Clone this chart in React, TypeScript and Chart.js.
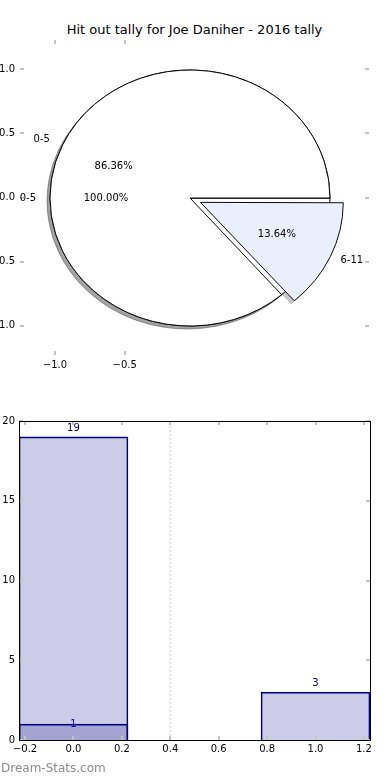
import React, { useEffect, useRef } from 'react';
import { Chart, registerables } from 'chart.js';

Chart.register(...registerables);

const TITLE = 'Hit out tally for Joe Daniher - 2016 tally';
const WATERMARK = 'Dream-Stats.com';

// split pie (0-5 vs 6-11)
const sliceLabels = ['0-5', '6-11'];
const sliceValues = [86.36, 13.64];
const sliceColors = ['#ffffff', '#e9effc'];
const sliceExplode = [0, 1];

// overall pie
const totalLabels = ['0-5'];
const totalValues = [100];
const totalColors = ['#ffffff'];
const totalExplode = [0];

// pie frame ticks
const pieXTicks = [-1.0, -0.5];
const pieYTicks = [-1.0, -0.5, 0.0, 0.5, 1.0];

// bars
const barX = [0, 1];
const barTotals = [19, 3];
const barSubX = [0];
const barSubValues = [1];
const barXTicks = [-0.2, 0.0, 0.2, 0.4, 0.6, 0.8, 1.0, 1.2];
const barYTicks = [0, 5, 10, 15, 20];
const dividerX = [0.4, 0.4];
const dividerY = [0, 20];

const FONT = '"DejaVu Sans", sans-serif';
const SY = 128 / 140;
const EXPLODE_PX = 46;
const SHADOW = 'rgba(77,77,77,0.3)';

const fmt1 = (v: number) => (v < 0 ? '\u2212' : '') + Math.abs(v).toFixed(1);

function innerTicks(frame: boolean) {
  return {
    id: 'innerTicks',
    afterDraw(chart: any) {
      const { ctx, chartArea: a, scales } = chart;
      const xs = scales.x;
      const ys = scales.y;
      const len = 4;
      ctx.save();
      ctx.strokeStyle = '#c4c4c4';
      ctx.lineWidth = 2;
      ctx.beginPath();
      xs.ticks.forEach((t: any) => {
        const p = Math.round(xs.getPixelForValue(t.value));
        ctx.moveTo(p, a.top);
        ctx.lineTo(p, a.top + len);
        ctx.moveTo(p, a.bottom);
        ctx.lineTo(p, a.bottom - len);
      });
      ys.ticks.forEach((t: any) => {
        const p = Math.round(ys.getPixelForValue(t.value));
        ctx.moveTo(a.left, p);
        ctx.lineTo(a.left + len, p);
        ctx.moveTo(a.right, p);
        ctx.lineTo(a.right - len, p);
      });
      ctx.stroke();
      if (frame) {
        ctx.strokeStyle = '#000';
        ctx.lineWidth = 1;
        ctx.strokeRect(Math.round(a.left) + 0.5, Math.round(a.top) + 0.5, Math.round(a.right - a.left), Math.round(a.bottom - a.top));
      }
      ctx.restore();
    },
  };
}

const pieSets = [
  { labels: sliceLabels, values: sliceValues },
  { labels: totalLabels, values: totalValues },
];

function ellipse(ctx: CanvasRenderingContext2D, cx: number, cy: number) {
  ctx.translate(cx, cy);
  ctx.scale(1, SY);
  ctx.translate(-cx, -cy);
}

const piePlugin = {
  id: 'pieEllipse',
  beforeDatasetsDraw(chart: any) {
    const { ctx, chartArea: a } = chart;
    const cx = (a.left + a.right) / 2;
    const cy = (a.top + a.bottom) / 2;
    const metas = chart.data.datasets.map((_: any, i: number) => chart.getDatasetMeta(i));
    const R = metas[0].data[0].outerRadius;
    metas.forEach((m: any) => m.data.forEach((arc: any) => { arc.outerRadius = R; arc.innerRadius = 0; }));
    // shadow pass: every wedge's shadow lies beneath every wedge
    ctx.save();
    ctx.translate(-3, 3);
    ellipse(ctx, cx, cy);
    for (let d = metas.length - 1; d >= 0; d--) {
      metas[d].data.forEach((arc: any) => {
        const o = arc.options;
        arc.options = { ...o, backgroundColor: SHADOW, borderColor: SHADOW };
        arc.draw(ctx);
        arc.options = o;
      });
    }
    ctx.restore();
    ctx.save();
    ellipse(ctx, cx, cy);
  },
  afterDatasetsDraw(chart: any) {
    const { ctx, chartArea: a } = chart;
    ctx.restore();
    const cy = (a.top + a.bottom) / 2;
    ctx.save();
    ctx.font = '10px ' + FONT;
    ctx.fillStyle = '#000';
    ctx.textBaseline = 'middle';
    pieSets.forEach((set, d) => {
      const total = set.values.reduce((s, v) => s + v, 0);
      chart.getDatasetMeta(d).data.forEach((arc: any, i: number) => {
        const mid = (arc.startAngle + arc.endAngle) / 2;
        const off = (arc.options.offset || 0) / 4;
        const c = Math.cos(mid);
        const s = Math.sin(mid);
        const px = (k: number) => arc.x + c * (off + k * arc.outerRadius);
        const py = (k: number) => cy + SY * (arc.y - cy + s * (off + k * arc.outerRadius));
        ctx.textAlign = c < 0 ? 'right' : 'left';
        ctx.fillText(set.labels[i], px(1.1), py(1.1));
        ctx.textAlign = 'center';
        ctx.fillText(((set.values[i] / total) * 100).toFixed(2) + '%', px(0.6), py(0.6));
      });
    });
    ctx.restore();
  },
};

const barLabels = {
  id: 'barLabels',
  afterDatasetsDraw(chart: any) {
    const { ctx, scales } = chart;
    ctx.save();
    ctx.font = '10px ' + FONT;
    ctx.fillStyle = '#000080';
    ctx.textAlign = 'center';
    ctx.textBaseline = 'middle';
    barX.forEach((x, i) => {
      ctx.fillText(String(barTotals[i]), scales.x.getPixelForValue(x), scales.y.getPixelForValue(barTotals[i] + 0.53));
    });
    barSubX.forEach((x, i) => {
      ctx.fillText(String(barSubValues[i]), scales.x.getPixelForValue(x), scales.y.getPixelForValue(barSubValues[i]));
    });
    ctx.restore();
  },
};

function makeAxes(el: HTMLCanvasElement) {
  return new Chart(el, {
    type: 'scatter',
    data: { datasets: [{ data: [] }] },
    options: {
      animation: false,
      responsive: false,
      events: [],
      layout: { padding: { left: 0, top: 40, right: 21, bottom: 0 } },
      plugins: { legend: { display: false }, tooltip: { enabled: false } },
      scales: {
        x: {
          type: 'linear',
          min: -1.25,
          max: 1.25,
          grid: { display: false, drawTicks: false },
          border: { display: false },
          afterBuildTicks: (s: any) => { s.ticks = pieXTicks.map((v) => ({ value: v })); },
          afterFit: (s: any) => { s.height = 35; s.paddingLeft = 0; s.paddingRight = 0; },
          ticks: { padding: 4, color: '#000', font: { family: FONT, size: 10 }, autoSkip: false, maxRotation: 0, callback: (v: any) => fmt1(Number(v)) },
        },
        y: {
          type: 'linear',
          min: -1.23,
          max: 1.23,
          grid: { display: false, drawTicks: false },
          border: { display: false },
          afterBuildTicks: (s: any) => { s.ticks = pieYTicks.map((v) => ({ value: v })); },
          afterFit: (s: any) => { s.width = 20; s.paddingTop = 0; s.paddingBottom = 0; },
          ticks: { padding: 5, color: '#000', font: { family: FONT, size: 10 }, autoSkip: false, callback: (v: any) => fmt1(Number(v)) },
        },
      },
    } as any,
    plugins: [innerTicks(false)],
  });
}

function makePie(el: HTMLCanvasElement) {
  const splitTotal = sliceValues.reduce((s, v) => s + v, 0);
  const splitRotation = 90 + (360 * sliceValues[sliceValues.length - 1]) / splitTotal;
  return new Chart(el, {
    type: 'pie',
    data: {
      labels: sliceLabels,
      datasets: [
        {
          data: sliceValues,
          backgroundColor: sliceColors,
          borderColor: '#000',
          borderWidth: 1,
          offset: sliceExplode.map((e) => e * EXPLODE_PX),
          rotation: splitRotation,
        } as any,
        {
          data: totalValues,
          backgroundColor: totalColors,
          borderColor: '#000',
          borderWidth: 1,
          offset: totalExplode.map((e) => e * EXPLODE_PX),
          rotation: 90,
        } as any,
      ],
    },
    options: {
      animation: false,
      responsive: false,
      events: [],
      radius: 140,
      layout: { padding: 0 },
      plugins: { legend: { display: false }, tooltip: { enabled: false } },
    } as any,
    plugins: [piePlugin],
  });
}

function makeBars(el: HTMLCanvasElement) {
  const fill = 'rgba(0,0,128,0.2)';
  return new Chart(el, {
    type: 'bar',
    data: {
      datasets: [
        {
          type: 'bar',
          data: barSubX.map((x, i) => ({ x, y: barSubValues[i] })),
          backgroundColor: fill,
          borderColor: '#000080',
          borderWidth: 1,
          grouped: false,
          barThickness: 109,
          order: 0,
        },
        {
          type: 'bar',
          data: barX.map((x, i) => ({ x, y: barTotals[i] })),
          backgroundColor: fill,
          borderColor: '#000080',
          borderWidth: 1,
          grouped: false,
          barThickness: 109,
          order: 1,
        },
        {
          type: 'line',
          data: dividerX.map((x, i) => ({ x, y: dividerY[i] })),
          borderColor: '#c8c8c8',
          borderDash: [2, 2],
          borderWidth: 1,
          pointRadius: 0,
          order: 2,
        },
      ] as any,
    },
    options: {
      animation: false,
      responsive: false,
      events: [],
      layout: { padding: { left: 0, top: 21, right: 20, bottom: 0 } },
      plugins: { legend: { display: false }, tooltip: { enabled: false } },
      scales: {
        x: {
          type: 'linear',
          min: -0.225,
          max: 1.225,
          offset: false,
          grid: { display: false, drawTicks: false },
          border: { display: false },
          afterBuildTicks: (s: any) => { s.ticks = barXTicks.map((v) => ({ value: v })); },
          afterFit: (s: any) => { s.height = 40; s.paddingLeft = 0; s.paddingRight = 0; },
          ticks: { padding: 3, color: '#000', font: { family: FONT, size: 10 }, autoSkip: false, maxRotation: 0, callback: (v: any) => fmt1(Number(v)) },
        },
        y: {
          type: 'linear',
          min: 0,
          max: 20,
          grid: { display: false, drawTicks: false },
          border: { display: false },
          afterBuildTicks: (s: any) => { s.ticks = barYTicks.map((v) => ({ value: v })); },
          afterFit: (s: any) => { s.width = 19; s.paddingTop = 0; s.paddingBottom = 0; },
          ticks: { padding: 4, color: '#000', font: { family: FONT, size: 10 }, autoSkip: false, callback: (v: any) => String(v) },
        },
      },
    } as any,
    plugins: [barLabels, innerTicks(true)],
  });
}

export default function App() {
  const axesRef = useRef<HTMLCanvasElement>(null);
  const pieRef = useRef<HTMLCanvasElement>(null);
  const barRef = useRef<HTMLCanvasElement>(null);

  useEffect(() => {
    const charts = [makeAxes(axesRef.current!), makePie(pieRef.current!), makeBars(barRef.current!)];
    return () => charts.forEach((c) => c.destroy());
  }, []);

  const abs = (l: number, t: number, w: number, h: number): React.CSSProperties => ({
    position: 'absolute', left: l, top: t, width: w, height: h,
  });

  return (
    <div style={{ position: 'absolute', left: 0, top: 0, width: 390, height: 780, background: '#fff', overflow: 'hidden', fontFamily: FONT }}>
      <div style={{ position: 'absolute', left: 0, top: 22, width: 389, textAlign: 'center', fontSize: 13, lineHeight: '16px', color: '#000' }}>{TITLE}</div>
      <canvas ref={axesRef} width={390} height={390} style={abs(0, 0, 390, 390)} />
      <canvas ref={pieRef} width={380} height={396} style={abs(0, 0, 380, 396)} />
      <canvas ref={barRef} width={390} height={380} style={abs(0, 400, 390, 380)} />
      <div style={{ position: 'absolute', left: 1, top: 761, fontSize: 12, lineHeight: '14px', color: '#8c8c8c' }}>{WATERMARK}</div>
    </div>
  );
}
